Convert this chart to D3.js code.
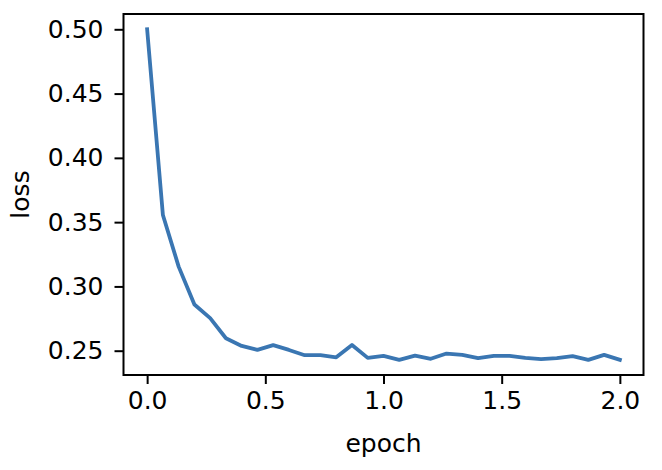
<!DOCTYPE html>
<html>
<head>
<meta charset="utf-8">
<script src="https://cdn.jsdelivr.net/npm/d3@7"></script>
<style>
  html, body { margin: 0; padding: 0; background: #fff; }
  svg { display: block; }
  text { font-family: "DejaVu Sans", sans-serif; fill: #000; }
</style>
</head>
<body>
<svg id="chart" width="662" height="470"></svg>
<script>
// Data (epoch = i/15)
const epochs = d3.range(31).map(i => i / 15);
const loss = [0.500, 0.3556, 0.3154, 0.2859, 0.2753, 0.2597, 0.2537, 0.2506, 0.2543, 0.2506,
              0.2465, 0.2465, 0.2449, 0.2545, 0.2444, 0.2460, 0.2429, 0.2462, 0.2437, 0.2478,
              0.2468, 0.2442, 0.2460, 0.2460, 0.2444, 0.2434, 0.2442, 0.2458, 0.2429, 0.2468, 0.2429];
const xTicks = [0.0, 0.5, 1.0, 1.5, 2.0];
const yTicks = [0.25, 0.30, 0.35, 0.40, 0.45, 0.50];
const xLabel = "epoch";
const yLabel = "loss";

const svg = d3.select("#chart");
const mLeft = 123.5, mRight = 643.5, mTop = 14, mBottom = 375;

const x = d3.scaleLinear().domain([-0.1, 2.1]).range([mLeft, mRight]);
const y = d3.scaleLinear().domain([0.2311, 0.5119]).range([mBottom, mTop]);

// line
const line = d3.line().x((d, i) => x(epochs[i])).y(d => y(d));
svg.append("path")
  .datum(loss)
  .attr("d", line)
  .attr("fill", "none")
  .attr("stroke", "#3a76b2")
  .attr("stroke-width", 3.8)
  .attr("stroke-linejoin", "round")
  .attr("stroke-linecap", "square");

// axes
const fs = 25;
const xAxis = d3.axisBottom(x).tickValues(xTicks).tickFormat(d3.format(".1f")).tickSize(9).tickPadding(7);
const yAxis = d3.axisLeft(y).tickValues(yTicks).tickFormat(d3.format(".2f")).tickSize(9).tickPadding(11);

const gx = svg.append("g").attr("transform", `translate(0,${mBottom})`).call(xAxis);
const gy = svg.append("g").attr("transform", `translate(${mLeft},0)`).call(yAxis);
[gx, gy].forEach(g => {
  g.select(".domain").remove();
  g.selectAll(".tick line").attr("stroke", "#000").attr("stroke-width", 2);
  g.selectAll(".tick text").style("font-size", fs + "px").style("font-family", "DejaVu Sans");
});

// frame
svg.append("rect")
  .attr("x", mLeft).attr("y", mTop)
  .attr("width", mRight - mLeft).attr("height", mBottom - mTop)
  .attr("fill", "none").attr("stroke", "#000").attr("stroke-width", 2);

// labels
svg.append("text")
  .attr("x", (mLeft + mRight) / 2).attr("y", 452)
  .attr("text-anchor", "middle")
  .style("font-size", fs + "px")
  .text(xLabel);

svg.append("text")
  .attr("transform", `translate(29,${(mTop + mBottom) / 2}) rotate(-90)`)
  .attr("text-anchor", "middle")
  .style("font-size", fs + "px")
  .text(yLabel);
</script>
</body>
</html>
